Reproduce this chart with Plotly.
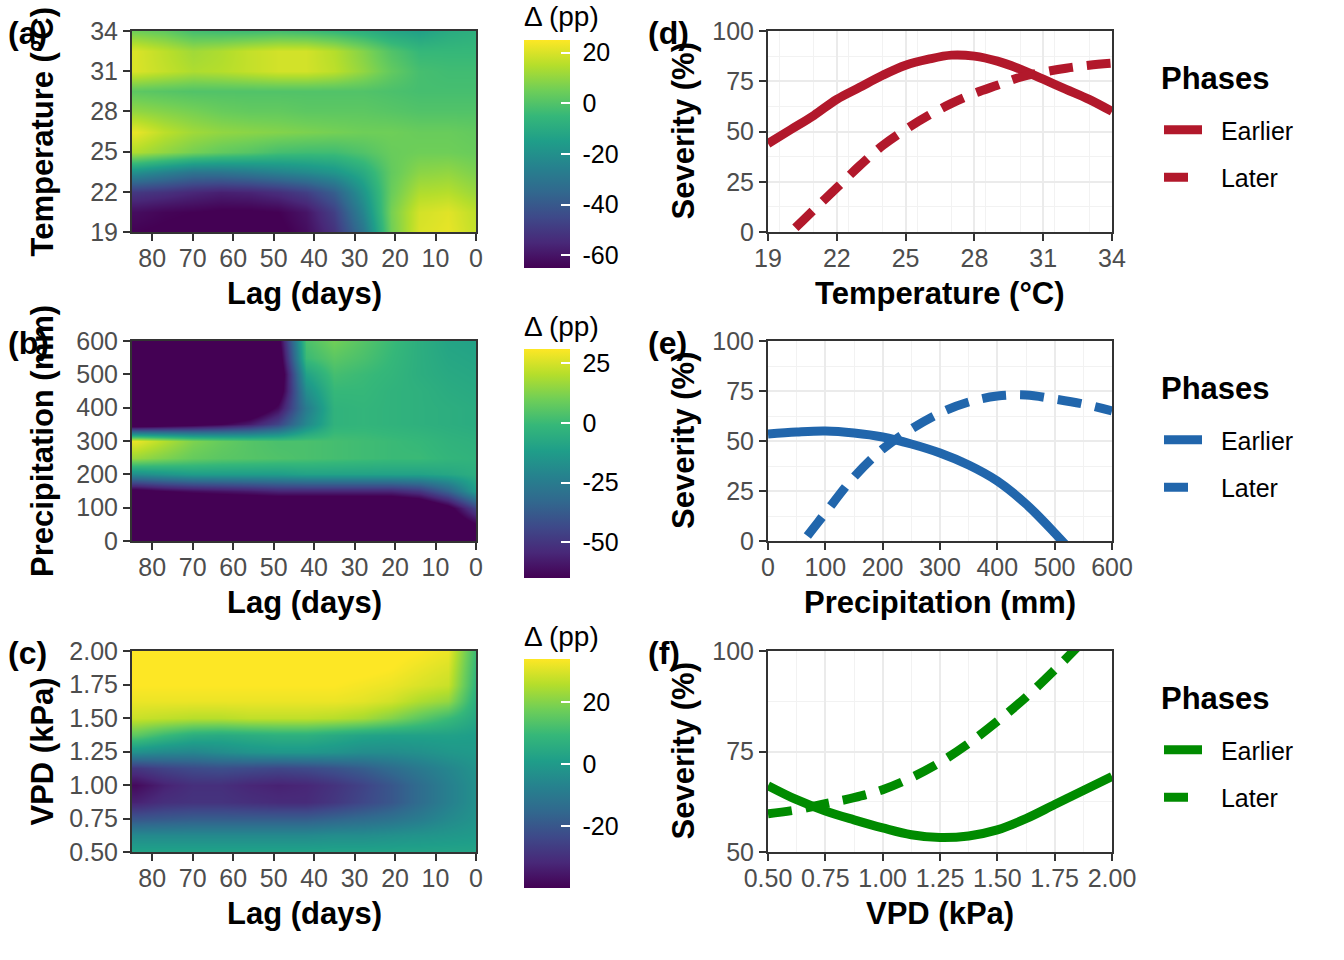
import plotly.graph_objects as go

# ---------------- heatmap data (lag runs left to right: 84 -> 0) ----------------
lag = [84, 77, 70, 63, 56, 49, 42, 35, 28, 21, 14, 7, 0]

temp_levels = [19, 20.5, 22, 23.5, 25, 26.5, 28, 29.5, 31, 32.5, 34]
temp_delta = [
    [-65, -66, -67, -68, -68, -67, -62, -52, -30, 5, 20, 22, 17],
    [-62, -64, -65, -66, -66, -65, -60, -48, -24, 6, 19, 21, 16],
    [-50, -52, -55, -57, -56, -53, -48, -38, -18, 4, 14, 15, 11],
    [-20, -25, -30, -30, -28, -25, -22, -18, -10, 3, 9, 10, 7],
    [14, 10, 6, 3, 1, -2, -3, -3, 0, 4, 5, 5, 4],
    [22, 16, 12, 10, 9, 8, 7, 6, 5, 5, 4, 4, 3],
    [10, 8, 6, 4, 3, 3, 2, 2, 2, 1, 0, 0, 0],
    [2, 1, 0, 0, 0, 0, 0, 0, 0, -1, -2, -2, -2],
    [20, 17, 14, 15, 17, 19, 19, 16, 10, 3, -2, -3, -3],
    [20, 16, 12, 14, 17, 19, 19, 15, 8, 0, -5, -5, -5],
    [5, 3, -2, -3, -3, -2, -3, -5, -8, -12, -14, -10, -8],
]

prec_levels = [0, 50, 100, 150, 200, 250, 300, 350, 400, 450, 500, 550, 600]
prec_delta = [
    [-90, -90, -90, -90, -90, -90, -90, -90, -90, -90, -90, -85, -70],
    [-90, -90, -90, -90, -90, -90, -90, -90, -90, -90, -90, -80, -65],
    [-90, -90, -90, -90, -90, -90, -90, -90, -90, -90, -85, -70, -45],
    [-70, -65, -62, -60, -58, -55, -55, -55, -55, -55, -50, -35, -12],
    [-18, -15, -12, -12, -12, -12, -10, -10, -10, -10, -10, -8, -5],
    [16, 12, 8, 6, 5, 4, 3, 2, 1, 0, 0, -2, -3],
    [28, 20, 12, 8, 5, 3, 3, 2, 1, 0, -1, -3, -4],
    [-80, -75, -70, -65, -58, -45, -20, -3, -2, -3, -4, -5, -6],
    [-95, -95, -95, -90, -82, -62, -25, -3, -2, -3, -4, -5, -6],
    [-95, -95, -95, -95, -90, -75, -18, -1, -1, -3, -4, -6, -7],
    [-95, -95, -95, -95, -95, -80, -10, 2, 0, -2, -5, -7, -8],
    [-95, -95, -95, -95, -95, -75, 0, 6, 3, -1, -5, -8, -9],
    [-95, -95, -95, -95, -95, -70, 3, 10, 5, 0, -5, -9, -10],
]

vpd_levels = [0.5, 0.625, 0.75, 0.875, 1.0, 1.125, 1.25, 1.375, 1.5, 1.625, 1.75, 1.875, 2.0]
vpd_delta = [
    [3, 3, 3, 3, 3, 3, 3, 3, 3, 3, 3, 3, 3],
    [-5, -5, -5, -5, -5, -5, -5, -4, -4, -3, -2, -1, 0],
    [-20, -19, -18, -18, -18, -18, -18, -16, -14, -12, -9, -5, -2],
    [-33, -30, -29, -29, -30, -31, -31, -28, -24, -20, -14, -8, -3],
    [-38, -33, -30, -30, -32, -33, -32, -29, -25, -20, -14, -8, -3],
    [-28, -25, -23, -22, -23, -24, -23, -21, -18, -14, -10, -6, -2],
    [-3, -5, -6, -4, -2, -1, -1, -2, -4, -4, -3, -1, 0],
    [15, 10, 6, 5, 6, 7, 7, 5, 3, 2, 2, 2, 1],
    [28, 27, 26, 26, 27, 27, 27, 26, 24, 20, 15, 10, 4],
    [32, 32, 32, 32, 32, 32, 32, 32, 31, 29, 25, 22, 6],
    [34, 34, 34, 34, 34, 34, 34, 34, 33, 32, 30, 28, 8],
    [35, 35, 35, 35, 35, 35, 35, 35, 35, 34, 32, 30, 9],
    [36, 36, 36, 36, 36, 36, 36, 36, 36, 35, 34, 32, 10],
]

# ---------------- severity curves ----------------
temp_x = [19, 20, 21, 22, 23, 24, 25, 26, 27, 28, 29, 30, 31, 32, 33, 34]
temp_earlier = [44, 51, 58, 66, 72, 78, 83, 86, 88, 87.5, 85, 81, 76, 71, 66, 60]
temp_later = [-11, 0, 11, 22, 33, 43, 51, 58, 64, 69, 73, 77, 79.5, 81.5, 83, 84]

prec_x = [0, 50, 100, 150, 200, 250, 300, 350, 400, 450, 500, 550, 600]
prec_earlier = [53.5, 54.5, 55, 54, 52, 48.5, 44, 38, 30, 18.5, 4, -12, -30]
prec_later = [-30, -5, 14, 32, 46, 56, 64, 69.5, 72.5, 73, 71, 68.5, 65]

vpd_x = [0.5, 0.625, 0.75, 0.875, 1.0, 1.125, 1.25, 1.375, 1.5, 1.625, 1.75, 1.875, 2.0]
vpd_earlier = [66.5, 63, 60.2, 58, 56, 54.3, 53.6, 54, 55.5, 58.3, 61.8, 65.3, 68.8]
vpd_later = [59.5, 60.5, 62, 63.5, 65.5, 68.5, 72.3, 77, 82.5, 88.5, 95.3, 102.5, 110]

phase_names = ["Earlier", "Later"]

W, H = 1344, 960
FONT = "Liberation Sans"
GREY = "#4D4D4D"
DARK = "#333333"
NB = "\u00a0"


def px(x):
    return x / W


def py(y):
    return 1 - y / H


fig = go.Figure()

heat = [
    (temp_levels, temp_delta, -65, 25, [20, 0, -20, -40, -60], 40, 268),
    (prec_levels, prec_delta, -65, 31, [25, 0, -25, -50], 349, 578),
    (vpd_levels, vpd_delta, -40, 34, [20, 0, -20], 659, 888),
]
for i, (lev, z, zmin, zmax, tv, cb_top, cb_bot) in enumerate(heat):
    n = "" if i == 0 else str(i + 1)
    fig.add_trace(go.Heatmap(
        x=lag, y=lev, z=z, zmin=zmin, zmax=zmax, zsmooth="best",
        colorscale="Viridis", xaxis="x" + n, yaxis="y" + n,
        colorbar=dict(
            x=px(524), xanchor="left", y=py((cb_top + cb_bot) / 2), yanchor="middle",
            len=cb_bot - cb_top, lenmode="pixels", thickness=46, outlinewidth=0,
            xpad=0, ypad=0, tickvals=tv, ticktext=[NB + str(v) for v in tv],
            ticks="inside", ticklen=9, tickwidth=1.5, tickcolor="white",
            tickfont=dict(family=FONT, size=25, color="black"),
        ),
    ))

curves = [
    (temp_x, temp_earlier, temp_later, "#B2182B"),
    (prec_x, prec_earlier, prec_later, "#2166AC"),
    (vpd_x, vpd_earlier, vpd_later, "#008B00"),
]
for i, (x, e, l, col) in enumerate(curves):
    n = str(i + 4)
    leg = "legend" if i == 0 else "legend" + str(i + 1)
    fig.add_trace(go.Scatter(x=x, y=e, mode="lines", name=NB + NB + phase_names[0], legend=leg,
                             legendgroup="e" + n, line=dict(color=col, width=9, shape="spline"),
                             xaxis="x" + n, yaxis="y" + n))
    fig.add_trace(go.Scatter(x=x, y=l, mode="lines", name=NB + NB + phase_names[1], legend=leg,
                             legendgroup="l" + n,
                             line=dict(color=col, width=9, dash="24px,14px", shape="spline"),
                             xaxis="x" + n, yaxis="y" + n))

rows = [(31, 232), (341, 541), (651, 852)]
axis_common = dict(showline=True, mirror=True, linecolor=DARK, linewidth=2, ticks="outside",
                   ticklen=7, tickwidth=2, tickcolor=DARK, zeroline=False, automargin=False,
                   tickfont=dict(family=FONT, size=25, color=GREY))

yspec = [
    dict(range=[19, 34], tickvals=[19, 22, 25, 28, 31, 34]),
    dict(range=[0, 600], tickvals=[0, 100, 200, 300, 400, 500, 600]),
    dict(range=[0.5, 2.0], tickvals=[0.5, 0.75, 1.0, 1.25, 1.5, 1.75, 2.0], tickformat=".2f"),
]
for i in range(3):
    n = "" if i == 0 else str(i + 1)
    top, bot = rows[i]
    fig.layout["xaxis" + n] = dict(axis_common, domain=[px(132), px(476)], anchor="y" + n,
                                   range=[85, 0], tickvals=[80, 70, 60, 50, 40, 30, 20, 10, 0],
                                   showgrid=False, ticklabelstandoff=-4)
    fig.layout["yaxis" + n] = dict(axis_common, domain=[py(bot), py(top)], anchor="x" + n,
                                   showgrid=False, **yspec[i])

grid = dict(showgrid=True, gridcolor="#EBEBEB", gridwidth=2)
minor = dict(showgrid=True, gridcolor="#F2F2F2", gridwidth=1)
xspec = [
    dict(range=[19, 34], tick0=19, dtick=3, minor=dict(minor, dtick=1.5)),
    dict(range=[0, 600], tick0=0, dtick=100, minor=dict(minor, dtick=50)),
    dict(range=[0.5, 2.0], tick0=0.5, dtick=0.25, tickformat=".2f", minor=dict(minor, dtick=0.125)),
]
ry = [
    dict(range=[0, 100], tick0=0, dtick=25, minor=dict(minor, dtick=12.5)),
    dict(range=[0, 100], tick0=0, dtick=25, minor=dict(minor, dtick=12.5)),
    dict(range=[50, 100], tick0=50, dtick=25, minor=dict(minor, dtick=12.5)),
]
for i in range(3):
    n = str(i + 4)
    top, bot = rows[i]
    fig.layout["xaxis" + n] = dict(axis_common, **grid, domain=[px(768), px(1112)], anchor="y" + n,
                                   ticklabelstandoff=-4, **xspec[i])
    fig.layout["yaxis" + n] = dict(axis_common, **grid, domain=[py(bot), py(top)], anchor="x" + n, **ry[i])

legend_common = dict(font=dict(family=FONT, size=25, color="black"),
                     bgcolor="rgba(0,0,0,0)", x=px(1159), xanchor="left", yanchor="top",
                     tracegroupgap=12, itemwidth=38)
for i, name in enumerate(["legend", "legend2", "legend3"]):
    fig.layout[name] = dict(legend_common, y=py(rows[i][0] + 76))

ann = []
titles = [("Lag (days)", "Temperature (°C)", "Temperature (°C)", "(a)", "(d)"),
          ("Lag (days)", "Precipitation (mm)", "Precipitation (mm)", "(b)", "(e)"),
          ("Lag (days)", "VPD (kPa)", "VPD (kPa)", "(c)", "(f)")]
base = dict(xref="paper", yref="paper", showarrow=False, xanchor="center", yanchor="middle")
for i, (lx, ly, rx, la, ra) in enumerate(titles):
    top, bot = rows[i]
    bold = dict(family=FONT, size=31, color="black")
    ann.append(dict(base, text="<b>%s</b>" % lx, x=px(304), y=py(bot + 61), font=bold))
    ann.append(dict(base, text="<b>%s</b>" % rx, x=px(940), y=py(bot + 61), font=bold))
    ann.append(dict(base, text="<b>%s</b>" % ly, x=px(42), y=py((top + bot) / 2),
                    textangle=-90, font=bold))
    ann.append(dict(base, text="<b>Severity (%)</b>", x=px(683), y=py((top + bot) / 2),
                    textangle=-90, font=bold))
    ann.append(dict(base, text="<b>%s</b>" % la, x=px(6), y=py(top + 2), xanchor="left",
                    font=dict(family=FONT, size=32, color="black")))
    ann.append(dict(base, text="<b>%s</b>" % ra, x=px(646), y=py(top + 2), xanchor="left",
                    font=dict(family=FONT, size=32, color="black")))
    ann.append(dict(base, text="Δ (pp)", x=px(522), y=py(top - 15), xanchor="left",
                    font=dict(family=FONT, size=28, color="black")))
    ann.append(dict(base, text="<b>Phases</b>", x=px(1159), y=py(top + 47), xanchor="left",
                    font=dict(family=FONT, size=31, color="black")))

fig.update_layout(width=W, height=H, margin=dict(l=0, r=0, t=0, b=0, autoexpand=False),
                  paper_bgcolor="white", plot_bgcolor="white", annotations=ann,
                  font=dict(family=FONT))

fig.write_html("out.html", config={"displayModeBar": False},
               post_script="document.body.style.margin = '0';")
